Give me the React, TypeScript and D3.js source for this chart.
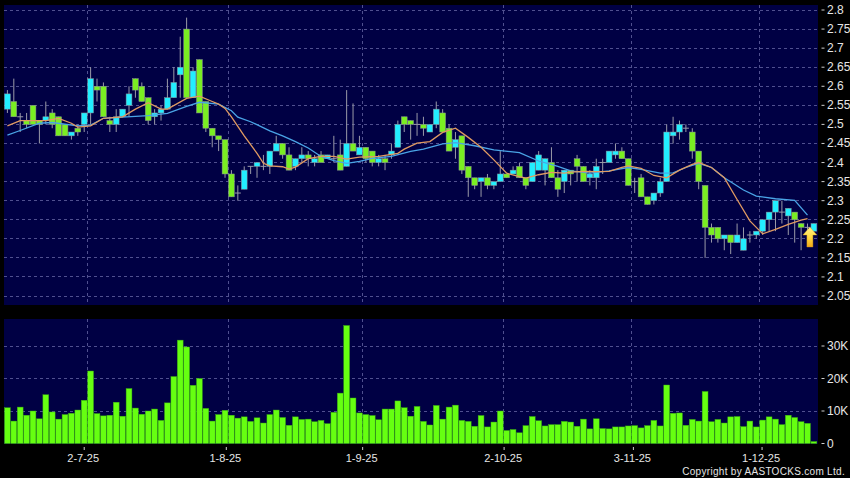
import React from 'react';
import * as d3 from 'd3';

const width = 850;
const height = 478;

// one row per session: open, high, low, close
const ohlc: number[][] = [
  [2.54, 2.59, 2.53, 2.58], [2.56, 2.62, 2.52, 2.52], [2.52, 2.53, 2.48, 2.52], [2.51, 2.53, 2.49, 2.5],
  [2.55, 2.55, 2.5, 2.5], [2.51, 2.51, 2.45, 2.5], [2.51, 2.56, 2.5, 2.52], [2.53, 2.54, 2.49, 2.5],
  [2.52, 2.52, 2.47, 2.47], [2.5, 2.5, 2.47, 2.47], [2.47, 2.48, 2.46, 2.48], [2.49, 2.5, 2.47, 2.48],
  [2.5, 2.53, 2.48, 2.53], [2.53, 2.65, 2.5, 2.62], [2.6, 2.62, 2.56, 2.59], [2.6, 2.61, 2.52, 2.52],
  [2.51, 2.52, 2.48, 2.5], [2.5, 2.54, 2.48, 2.52], [2.52, 2.54, 2.52, 2.54], [2.55, 2.6, 2.52, 2.58],
  [2.62, 2.62, 2.57, 2.59], [2.6, 2.61, 2.56, 2.56], [2.57, 2.57, 2.5, 2.51], [2.52, 2.54, 2.5, 2.53],
  [2.53, 2.55, 2.51, 2.54], [2.54, 2.62, 2.54, 2.57], [2.57, 2.65, 2.57, 2.61], [2.63, 2.73, 2.57, 2.65],
  [2.75, 2.78, 2.57, 2.57], [2.57, 2.65, 2.57, 2.64], [2.67, 2.67, 2.53, 2.53], [2.56, 2.56, 2.48, 2.49],
  [2.49, 2.49, 2.44, 2.47], [2.47, 2.47, 2.43, 2.46], [2.46, 2.46, 2.36, 2.37], [2.37, 2.38, 2.31, 2.31],
  [2.32, 2.34, 2.3, 2.32], [2.33, 2.39, 2.33, 2.38], [2.39, 2.39, 2.37, 2.39], [2.39, 2.4, 2.36, 2.4],
  [2.39, 2.42, 2.38, 2.39], [2.39, 2.43, 2.37, 2.43], [2.43, 2.47, 2.43, 2.45], [2.45, 2.45, 2.41, 2.42],
  [2.42, 2.44, 2.38, 2.38], [2.39, 2.41, 2.38, 2.41], [2.41, 2.44, 2.4, 2.42], [2.42, 2.43, 2.39, 2.41],
  [2.4, 2.42, 2.39, 2.41], [2.42, 2.43, 2.4, 2.4], [2.41, 2.42, 2.41, 2.42], [2.41, 2.47, 2.4, 2.41],
  [2.42, 2.46, 2.38, 2.38], [2.39, 2.59, 2.39, 2.45], [2.45, 2.555, 2.43, 2.43], [2.42, 2.47, 2.42, 2.44],
  [2.44, 2.44, 2.4, 2.41], [2.43, 2.43, 2.39, 2.4], [2.4, 2.42, 2.39, 2.41], [2.41, 2.42, 2.38, 2.4],
  [2.42, 2.45, 2.41, 2.43], [2.44, 2.51, 2.44, 2.5], [2.52, 2.52, 2.48, 2.5], [2.51, 2.51, 2.46, 2.5],
  [2.5, 2.53, 2.47, 2.5], [2.5, 2.52, 2.47, 2.49], [2.48, 2.5, 2.48, 2.5], [2.5, 2.56, 2.49, 2.54],
  [2.53, 2.54, 2.48, 2.48], [2.49, 2.5, 2.43, 2.43], [2.44, 2.48, 2.41, 2.46], [2.47, 2.47, 2.37, 2.38],
  [2.39, 2.39, 2.31, 2.36], [2.36, 2.36, 2.33, 2.34], [2.35, 2.36, 2.31, 2.36], [2.36, 2.37, 2.33, 2.34],
  [2.34, 2.35, 2.33, 2.35], [2.35, 2.43, 2.35, 2.37], [2.37, 2.37, 2.36, 2.36], [2.37, 2.39, 2.37, 2.38],
  [2.39, 2.4, 2.36, 2.36], [2.36, 2.36, 2.33, 2.34], [2.35, 2.4, 2.35, 2.4], [2.38, 2.43, 2.38, 2.42],
  [2.38, 2.41, 2.34, 2.41], [2.4, 2.44, 2.36, 2.36], [2.36, 2.38, 2.31, 2.33], [2.35, 2.38, 2.32, 2.38],
  [2.38, 2.38, 2.34, 2.37], [2.41, 2.42, 2.35, 2.39], [2.39, 2.39, 2.35, 2.35], [2.36, 2.38, 2.34, 2.37],
  [2.36, 2.41, 2.33, 2.39], [2.4, 2.41, 2.37, 2.4], [2.4, 2.43, 2.4, 2.43], [2.42, 2.45, 2.41, 2.43],
  [2.43, 2.44, 2.41, 2.41], [2.41, 2.41, 2.34, 2.34], [2.35, 2.36, 2.32, 2.35], [2.36, 2.37, 2.31, 2.31],
  [2.31, 2.31, 2.29, 2.29], [2.3, 2.32, 2.29, 2.32], [2.32, 2.36, 2.31, 2.35], [2.35, 2.5, 2.35, 2.48],
  [2.47, 2.52, 2.45, 2.48], [2.48, 2.51, 2.46, 2.5], [2.49, 2.5, 2.48, 2.49], [2.48, 2.49, 2.41, 2.43],
  [2.43, 2.43, 2.33, 2.35], [2.34, 2.34, 2.15, 2.23], [2.23, 2.24, 2.19, 2.21], [2.23, 2.23, 2.19, 2.2],
  [2.2, 2.21, 2.17, 2.21], [2.21, 2.21, 2.16, 2.19], [2.19, 2.24, 2.19, 2.21], [2.17, 2.23, 2.17, 2.2],
  [2.21, 2.22, 2.19, 2.21], [2.21, 2.22, 2.2, 2.22], [2.22, 2.25, 2.21, 2.25], [2.25, 2.27, 2.22, 2.27],
  [2.27, 2.3, 2.22, 2.3], [2.27, 2.3, 2.24, 2.27], [2.26, 2.28, 2.21, 2.28], [2.27, 2.27, 2.19, 2.25],
  [2.24, 2.24, 2.17, 2.23], [2.23, 2.24, 2.2, 2.23], [2.22, 2.24, 2.22, 2.24],
];

// thousands of shares
const volumes = [
  11, 6.9, 11.2, 8.7, 10, 7.6, 15, 9.7, 7.5, 8.9, 9.3, 10.3, 13.3, 22.3, 9.2, 8.5, 8.7, 12.7, 8.4, 16.9,
  10.9, 9, 10, 10.6, 7.1, 12.5, 20.6, 31.8, 29.7, 17.9, 20, 10.8, 6.9, 8.9, 10.2, 8.7, 7.8, 8.2, 6.8, 7.9,
  6.3, 8.9, 10.3, 8, 5.6, 8.2, 7.4, 7.5, 6.7, 7.1, 6.1, 9.6, 15.5, 36.3, 14, 9.4, 8.9, 8.6, 7.3, 10.6,
  10.6, 13.1, 11, 8.4, 11.4, 6.8, 5.7, 11.7, 7.5, 11.2, 11.8, 7.1, 6.8, 5.3, 8.6, 5.1, 6.6, 10, 4, 4.3,
  3.3, 5.5, 8.3, 7, 5.4, 5.8, 5.8, 6.8, 6.6, 5.3, 7.5, 4.5, 7.6, 4.6, 4.5, 5.1, 5.1, 5.4, 5.5, 4.8,
  5.5, 7.1, 5.4, 18, 9.3, 9.4, 5.6, 7.4, 6.9, 16, 6.7, 7.4, 6.3, 8.2, 8.3, 5.2, 6.9, 5.1, 7.2, 8.2,
  7.5, 5.8, 8.7, 8, 6.7, 6.2, 0.6,
];

// moving averages, read at [session, price] spots along the lines
const ma10: [number, number][] = [
  [0, 2.496], [2, 2.51], [6, 2.51], [8, 2.516], [10, 2.503], [11, 2.493], [13, 2.496], [15, 2.516], [18, 2.52],
  [20, 2.54], [22, 2.557], [24, 2.54], [25, 2.54], [28, 2.568], [30, 2.574], [32, 2.56], [33, 2.553], [34, 2.542],
  [35, 2.52], [37, 2.47], [39, 2.424], [40, 2.398], [41, 2.391], [43, 2.389], [44, 2.383], [45, 2.388], [47, 2.41],
  [49, 2.416], [51, 2.416], [53, 2.409], [55, 2.414], [58, 2.416], [61, 2.424], [62, 2.435], [64, 2.451], [66, 2.455],
  [68, 2.479], [70, 2.49], [72, 2.466], [74, 2.44], [76, 2.407], [78, 2.372], [80, 2.363], [81, 2.359], [83, 2.368],
  [85, 2.374], [87, 2.372], [88, 2.375], [90, 2.377], [92, 2.376], [94, 2.377], [96, 2.387], [97, 2.391], [99, 2.385],
  [101, 2.366], [103, 2.36], [105, 2.38], [107, 2.395], [108, 2.4], [110, 2.387], [112, 2.36], [114, 2.303],
  [116, 2.247], [118, 2.213], [120, 2.225], [122, 2.238], [124, 2.249], [125, 2.253],
];
const ma20: [number, number][] = [
  [0, 2.472], [2, 2.484], [5, 2.503], [7, 2.505], [11, 2.496], [13, 2.498], [15, 2.516], [18, 2.519], [22, 2.523],
  [25, 2.529], [28, 2.547], [30, 2.558], [33, 2.553], [35, 2.536], [36, 2.519], [38, 2.507], [41, 2.483], [43, 2.47],
  [45, 2.455], [47, 2.438], [49, 2.416], [51, 2.405], [53, 2.398], [55, 2.403], [57, 2.411], [60, 2.416], [63, 2.429],
  [65, 2.435], [68, 2.449], [70, 2.452], [73, 2.444], [76, 2.433], [80, 2.426], [83, 2.404], [86, 2.39], [88, 2.378],
  [91, 2.372], [94, 2.378], [97, 2.387], [99, 2.382], [102, 2.372], [104, 2.373], [106, 2.387], [108, 2.398],
  [110, 2.387], [112, 2.36], [115, 2.328], [117, 2.312], [120, 2.305], [123, 2.301], [125, 2.262],
];

const priceTicks = [2.05, 2.1, 2.15, 2.2, 2.25, 2.3, 2.35, 2.4, 2.45, 2.5, 2.55, 2.6, 2.65, 2.7, 2.75, 2.8];
const volumeTicks = [0, 10, 20, 30];
const dateLabels = ['2-7-25', '1-8-25', '1-9-25', '2-10-25', '3-11-25', '1-12-25'];
const monthStart = [13, 35, 56, 78, 98, 118]; // first session of each month, gridlines sit just left of it
const labelAt = [12, 34.2, 55.5, 77.6, 97.8, 117.9]; // the labels don't line up with the grid in the original

const panelLeft = 4;
const panelRight = 818;

const x = d3.scaleLinear().domain([0, 126]).range([7.4, 813.9]);
const y = d3.scaleLinear().domain([2.05, 2.8]).range([296, 10]);
const yVol = d3.scaleLinear().domain([0, 30]).range([443.5, 346]);

const maLine = d3.line<[number, number]>()
  .x(d => x(d[0]))
  .y(d => y(d[1]));

const GRID = '#50508f';
const WICK = '#9a9aa8';

const App: React.FC = () => {
  const ax = x(ohlc.length - 1) - 4; // arrow centre
  return (
    <svg
      width={width}
      height={height}
      style={{ position: 'absolute', left: 0, top: 0, background: '#000', fontFamily: '"Liberation Sans", Arial, sans-serif' }}
    >
      <defs>
        <linearGradient id="arrowFill" x1="0" x2="0" y1="0" y2="1">
          <stop offset="0%" stopColor="#fff48a" />
          <stop offset="55%" stopColor="#ffd83c" />
          <stop offset="100%" stopColor="#f2a818" />
        </linearGradient>
      </defs>

      {/* panels */}
      <rect x={panelLeft} y={5} width={panelRight - panelLeft} height={300} fill="#000044" />
      <rect x={panelLeft} y={319} width={panelRight - panelLeft} height={125} fill="#000044" />

      {/* grid */}
      <g stroke={GRID} strokeDasharray="3,3" strokeWidth={1} shapeRendering="crispEdges">
        {priceTicks.map(t => <line key={t} x1={panelLeft} x2={panelRight} y1={y(t)} y2={y(t)} />)}
        {volumeTicks.slice(1).map(t => <line key={t} x1={panelLeft} x2={panelRight} y1={yVol(t)} y2={yVol(t)} />)}
        {monthStart.map(i => (
          <g key={i}>
            <line x1={x(i) - 3.2} x2={x(i) - 3.2} y1={5} y2={305} />
            <line x1={x(i) - 3.2} x2={x(i) - 3.2} y1={319} y2={444} />
          </g>
        ))}
      </g>

      {/* candles */}
      <g>
        {ohlc.map(([o, h, l, c], i) => {
          const up = c >= o;
          const top = y(Math.max(o, c));
          const bottom = y(Math.min(o, c));
          return (
            <g key={i}>
              <line x1={x(i)} x2={x(i)} y1={y(h)} y2={y(l)} stroke={WICK} strokeWidth={1} />
              {o === c
                ? <line x1={x(i) - 3} x2={x(i) + 3} y1={top} y2={top} stroke={WICK} strokeWidth={1} />
                : <rect x={x(i) - 2.9} y={top} width={5.8} height={bottom - top}
                    fill={up ? '#22eeff' : '#7aee22'} stroke="#8a8f96" strokeWidth={0.5} />}
            </g>
          );
        })}
      </g>

      {/* moving averages */}
      <path d={maLine(ma20) ?? ''} fill="none" stroke="#4aa4e6" strokeWidth={1.3} />
      <path d={maLine(ma10) ?? ''} fill="none" stroke="#e09a62" strokeWidth={1.3} />

      {/* last price arrow */}
      <path
        d={`M${ax},227 L${ax + 7},235 L${ax + 3},235 L${ax + 3},247 L${ax - 3},247 L${ax - 3},235 L${ax - 7},235 Z`}
        fill="url(#arrowFill)"
        stroke="#d0951a"
        strokeWidth={0.4}
      />

      {/* volume */}
      <g>
        {volumes.map((v, i) => (
          <rect key={i} x={x(i) - 2.9} y={yVol(v)} width={5.8} height={yVol(0) - yVol(v)}
            fill="#66ff11" stroke="#38b010" strokeWidth={0.45} />
        ))}
      </g>

      {/* right axes */}
      <g fill="#e6e6e6" fontSize={12}>
        {priceTicks.map(t => (
          <g key={t}>
            <line x1={821.5} x2={824.5} y1={y(t)} y2={y(t)} stroke="#cfcfcf" />
            <text x={827} y={y(t) + 4}>{d3.format('.3~f')(t)}</text>
          </g>
        ))}
        {volumeTicks.map(t => (
          <g key={t}>
            <line x1={821.5} x2={824.5} y1={yVol(t)} y2={yVol(t)} stroke="#cfcfcf" />
            <text x={827} y={yVol(t) + 4}>{t === 0 ? '0' : `${t}K`}</text>
          </g>
        ))}
      </g>

      {/* date axis */}
      <g fill="#e6e6e6" fontSize={11} textAnchor="middle">
        {dateLabels.map((d, i) => (
          <g key={d}>
            <line x1={x(labelAt[i])} x2={x(labelAt[i])} y1={447} y2={450} stroke="#cfcfcf" />
            <text x={x(labelAt[i]) - 1} y={462}>{d}</text>
          </g>
        ))}
      </g>

      <text x={845} y={475} textAnchor="end" fill="#e6e6e6" fontSize={10} letterSpacing={0.3}>
        Copyright by AASTOCKS.com Ltd.
      </text>
    </svg>
  );
};

export default App;
